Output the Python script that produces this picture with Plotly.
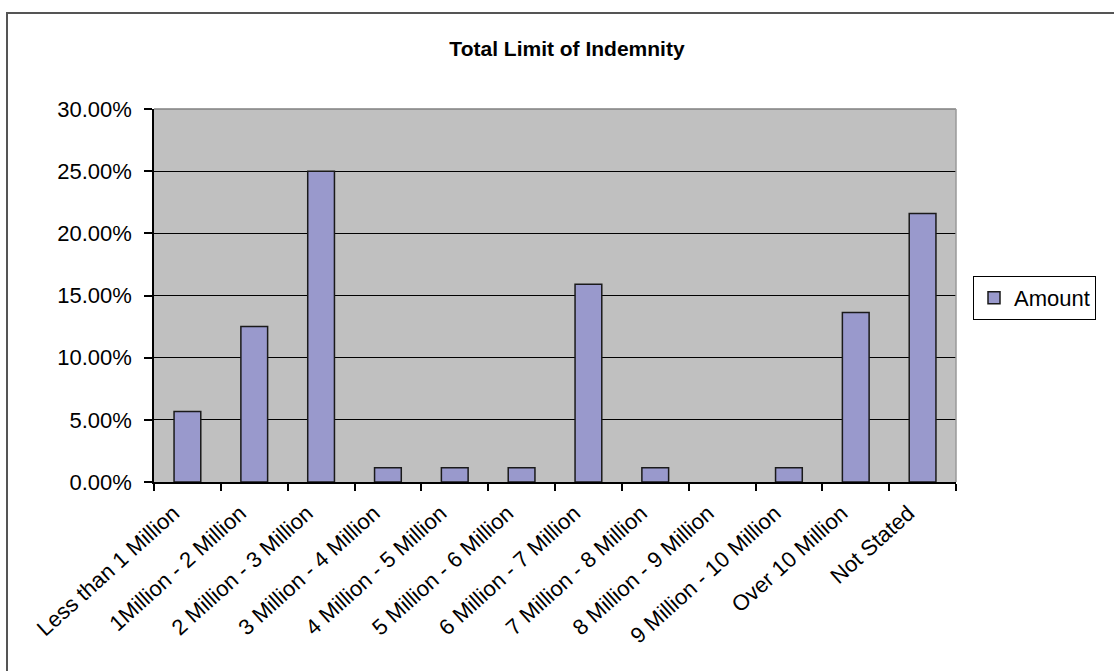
import plotly.graph_objects as go

# Share of policies by total limit of indemnity (percent)
categories = [
    "Less than 1 Million", "1Million - 2 Million", "2 Million - 3 Million",
    "3 Million - 4 Million", "4 Million - 5 Million", "5 Million - 6 Million",
    "6 Million - 7 Million", "7 Million - 8 Million", "8 Million - 9 Million",
    "9 Million - 10 Million", "Over 10 Million", "Not Stated",
]
amount_pct = [5.68, 12.50, 25.00, 1.14, 1.14, 1.14, 15.91, 1.14, 0.00, 1.14, 13.64, 21.59]
y_ticks = [0, 5, 10, 15, 20, 25, 30]
y_tick_text = [f"{v:.2f}%" for v in y_ticks]

W, H = 1114, 671
L, R, T, B = 154, 158, 109, 189
pw, ph = W - L - R, H - T - B

def px_x(p):
    return (p - L) / pw

def px_y(p):
    return (H - B - p) / ph

FONT = "Arial, Liberation Sans, Helvetica, sans-serif"
TXT = 22

fig = go.Figure()
fig.add_trace(go.Bar(
    x=categories, y=amount_pct, name="Amount",
    marker=dict(color="#9999CC",
                line=dict(color="#1a1a1a",
                          width=[1.5 if v > 0 else 0 for v in amount_pct])),
))

fig.update_layout(
    width=W, height=H,
    margin=dict(l=L, r=R, t=T, b=B, autoexpand=False),
    paper_bgcolor="white", plot_bgcolor="#C0C0C0",
    bargap=0.6,
    font=dict(family=FONT, size=TXT, color="black"),
    title=dict(text="<b>Total Limit of Indemnity</b>", x=px_x(567), xref="paper",
               xanchor="center", y=1 - 49 / H, yref="container", yanchor="middle",
               font=dict(family=FONT, size=21, color="black")),
    showlegend=True,
    legend=dict(x=px_x(973), y=px_y(276), xanchor="left", yanchor="top",
                bgcolor="white", bordercolor="black", borderwidth=1,
                itemwidth=30, tracegroupgap=0,
                font=dict(family=FONT, size=TXT, color="black")),
    xaxis=dict(type="category", showgrid=False, showline=True, linecolor="black",
               linewidth=1.5, ticks="outside", tickson="boundaries", ticklen=7,
               tickcolor="black", tickwidth=1.5, tickangle=-42,
               ticklabelstandoff=8, ticklabelshift=-14,
               tickfont=dict(family=FONT, size=TXT, color="black"),
               range=[-0.5, len(categories) - 0.5]),
    yaxis=dict(range=[0, 30], tickmode="array", tickvals=y_ticks, ticktext=y_tick_text,
               showgrid=True, gridcolor="black", gridwidth=1.2, zeroline=False,
               showline=True, linecolor="black", linewidth=1.5, ticks="outside",
               ticklen=8, tickcolor="black", tickwidth=1.5, ticklabelstandoff=8,
               tickfont=dict(family=FONT, size=TXT, color="black")),
)

# plot area border on top and right, outer chart frame
fig.add_shape(type="line", xref="paper", yref="paper", x0=0, x1=1, y0=1, y1=1,
              line=dict(color="#808080", width=1.5), layer="above")
fig.add_shape(type="line", xref="paper", yref="paper", x0=1, x1=1, y0=0, y1=1,
              line=dict(color="#9A9A9A", width=1.5), layer="above")
fig.add_shape(type="rect", xref="paper", yref="paper",
              x0=px_x(7), x1=px_x(1130), y0=px_y(690), y1=px_y(13),
              line=dict(color="#555555", width=2), layer="below")

fig.write_html("out.html")
